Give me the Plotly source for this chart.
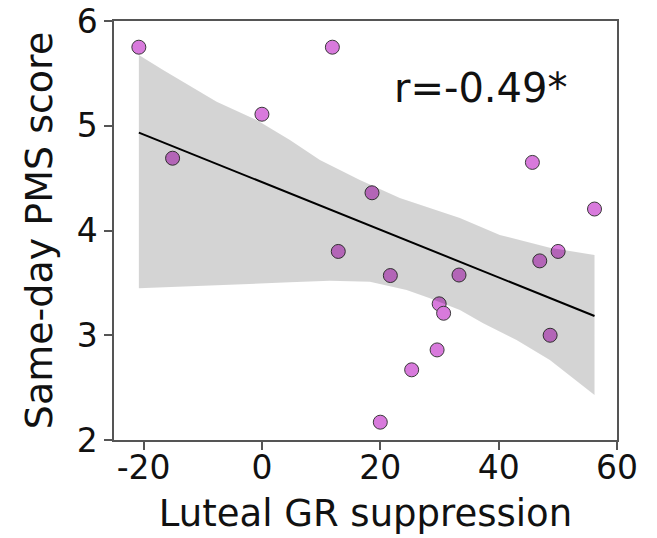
import numpy as np
import plotly.graph_objects as go

# scatter points
gr_suppression = [-20.8, -15.1, 0.0, 11.9, 18.6, 12.9, 20.0, 21.7, 25.3,
                  29.6, 29.95, 30.7, 33.3, 45.7, 46.95, 50.05, 48.7, 56.2]
pms_score = [5.75, 4.69, 5.11, 5.75, 4.36, 3.80, 2.17, 3.57, 2.67,
             2.86, 3.30, 3.21, 3.575, 4.65, 3.71, 3.80, 3.00, 4.205]

# confidence band edges (bootstrapped)
band_upper_x = [-20.8, -16.7, -7.65, -0.9, 4.73, 9.8, 16.55, 23.3, 33.45, 40.2, 48.65, 56.2]
band_upper_y = [5.675, 5.532, 5.23, 5.055, 4.864, 4.673, 4.482, 4.31, 4.119, 3.957, 3.836, 3.766]
band_lower_x = [-20.8, 4.73, 11.49, 18.24, 24.44, 28.38, 33.45, 37.38, 43.02, 48.65, 56.2]
band_lower_y = [3.448, 3.505, 3.521, 3.511, 3.432, 3.353, 3.241, 3.114, 2.955, 2.764, 2.43]

r_label = "r=-0.49*"

x_ticks = [-20, 0, 20, 40, 60]
y_ticks = [2, 3, 4, 5, 6]

# least squares fit line
slope, intercept = np.polyfit(gr_suppression, pms_score, 1)
fit_x = np.array([min(gr_suppression), max(gr_suppression)])
fit_y = slope * fit_x + intercept

fig = go.Figure()

fig.add_trace(go.Scatter(
    x=gr_suppression,
    y=pms_score,
    mode='markers',
    marker=dict(size=14, color='rgb(216,122,220)',
                line=dict(color='#3a3a3a', width=1)),
    showlegend=False
))

# band goes over the points, like seaborn does
fig.add_trace(go.Scatter(
    x=band_upper_x + band_lower_x[::-1],
    y=band_upper_y + band_lower_y[::-1],
    mode='none',
    fill='toself',
    fillcolor='rgba(0,0,0,0.17)',
    hoverinfo='skip',
    showlegend=False
))

fig.add_trace(go.Scatter(
    x=fit_x,
    y=fit_y,
    mode='lines',
    line=dict(color='black', width=2),
    showlegend=False
))

fig.add_annotation(
    x=37.0, y=5.36, xref='x', yref='y',
    text=r_label, showarrow=False,
    font=dict(size=40, color='#111111')
)

axis_style = dict(
    showgrid=False,
    zeroline=False,
    showline=True,
    linecolor='#555555',
    linewidth=1.5,
    mirror=True,
    ticks='outside',
    ticklen=8,
    tickwidth=1.5,
    tickcolor='#555555',
    tickfont=dict(size=33, color='#111111'),
    ticklabeloverflow='allow',
    automargin=False,
)

# page body adds ~8px offset, so margins are shifted up/left
fig.update_layout(
    width=657,
    height=538,
    margin=dict(l=106, r=48, t=13, b=106),
    plot_bgcolor='white',
    paper_bgcolor='white',
    font=dict(family='DejaVu Sans', color='#111111'),
    xaxis=dict(
        range=[-25, 60],
        tickvals=x_ticks,
        ticktext=[str(v) for v in x_ticks],
        ticklabelstandoff=-10,
        title=dict(text='Luteal GR suppression', font=dict(size=37), standoff=14),
        **axis_style
    ),
    yaxis=dict(
        range=[2, 6],
        tickvals=y_ticks,
        title=dict(text='Same-day PMS score', font=dict(size=38), standoff=12),
        **axis_style
    ),
)

fig.write_html("out.html")
